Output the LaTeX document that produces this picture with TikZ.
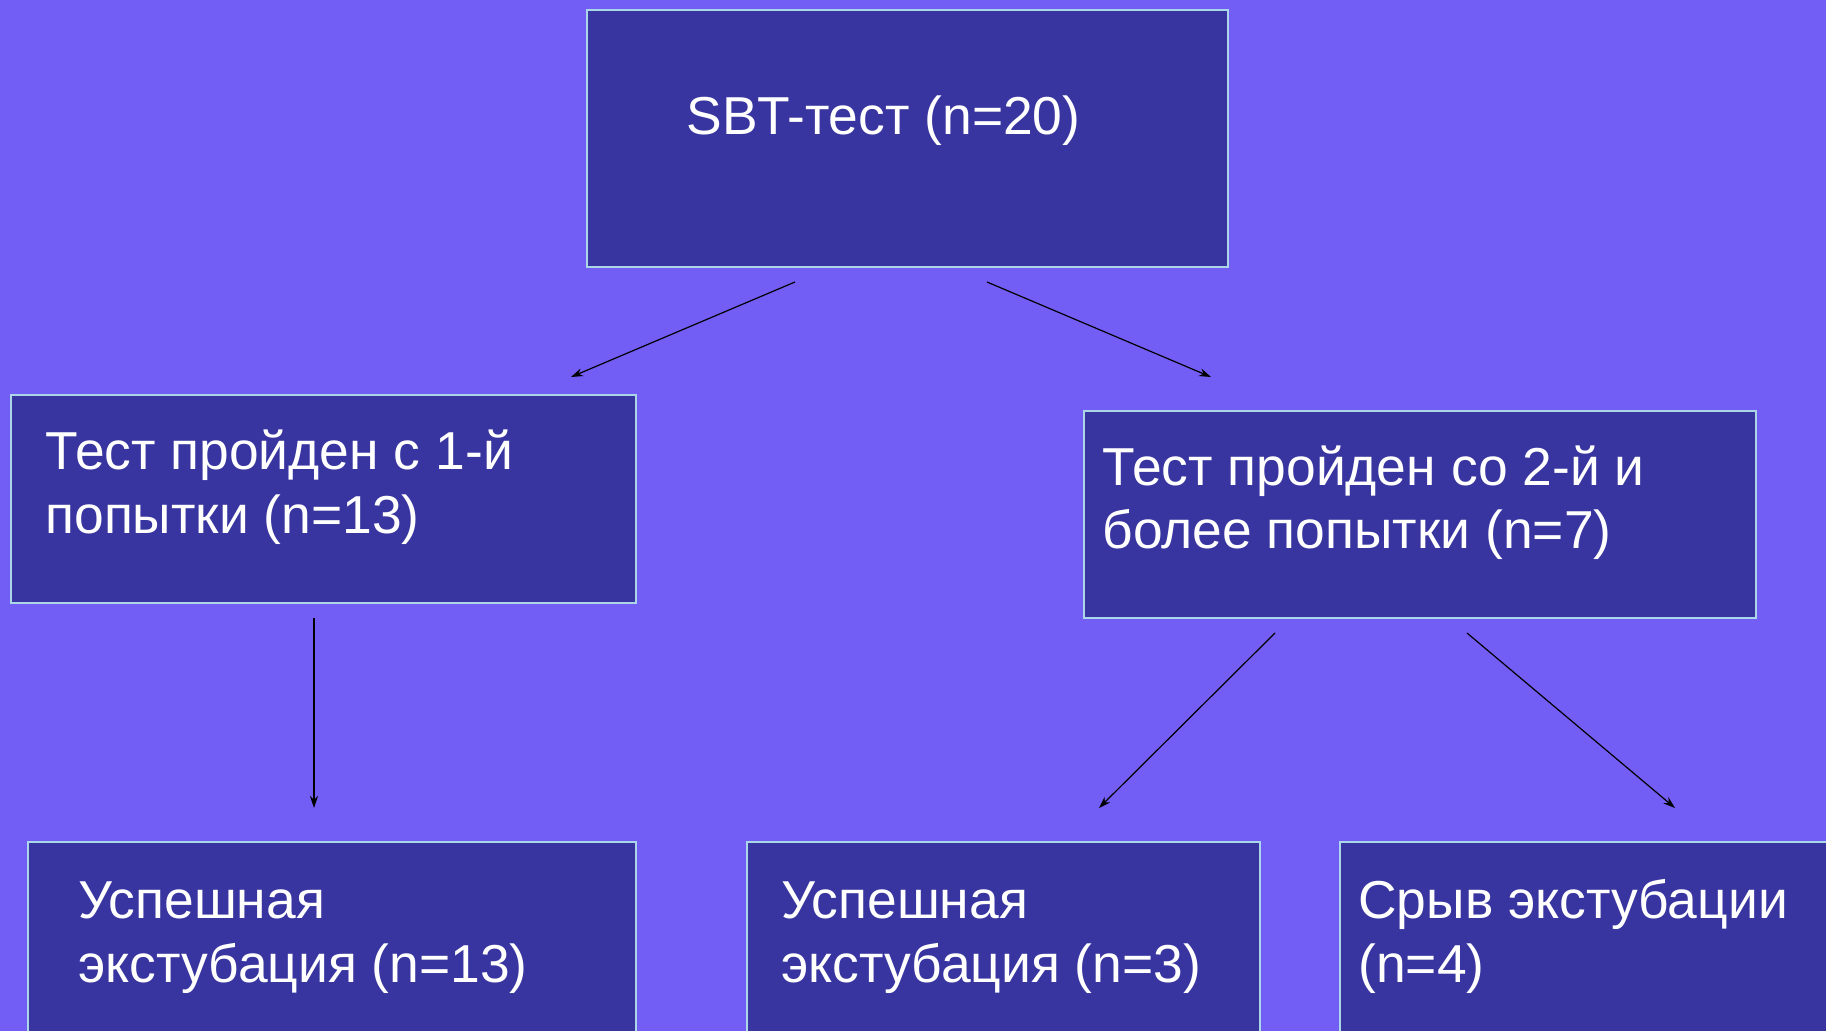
\documentclass[tikz,border=0pt]{standalone}
\usepackage{fontspec}
\setmainfont{Liberation Sans}
\usetikzlibrary{arrows.meta}
\definecolor{bgc}{RGB}{115,94,245}
\definecolor{boxfill}{RGB}{56,53,160}
\definecolor{boxline}{RGB}{170,214,232}
\tikzset{
  box/.style={draw=boxline, line width=1.2pt, fill=boxfill, rectangle, anchor=north west, inner sep=0pt},
  lbl/.style={text=white, anchor=base west, inner sep=0pt, font=\fontsize{26.7}{31}\selectfont},
  conn/.style={line width=0.6pt, -{Stealth[length=6pt,width=4pt]}}
}
\begin{document}
\begin{tikzpicture}[x=0.5pt,y=-0.5pt]
\clip (0,0) rectangle (1826,1031);
\fill[bgc] (0,0) rectangle (1826,1031);
\useasboundingbox (0,0) rectangle (1826,1031);
% boxes
\node[box, minimum width=320.5pt, minimum height=128.5pt] (top) at (586,9) {};
\node[box, minimum width=312.5pt, minimum height=104pt] (midL) at (10,394) {};
\node[box, minimum width=336pt, minimum height=103.5pt] (midR) at (1083,410) {};
\node[box, minimum width=304pt, minimum height=200pt] (botA) at (27,841) {};
\node[box, minimum width=256.5pt, minimum height=200pt] (botB) at (746,841) {};
\node[box, minimum width=300pt, minimum height=200pt] (botC) at (1339,841) {};
% texts
\node[lbl] (ttop) at (686,135) {SBT-тест (n=20)};
\node[lbl] (tL1) at (45,470) {Тест пройден с 1-й};
\node[lbl] (tL2) at (45,534) {попытки (n=13)};
\node[lbl] (tR1) at (1102,486) {Тест пройден со 2-й и};
\node[lbl] (tR2) at (1102,549) {более попытки (n=7)};
\node[lbl] (tA1) at (78,918) {Успешная};
\node[lbl] (tA2) at (78,982) {экстубация (n=13)};
\node[lbl] (tB1) at (781,918) {Успешная};
\node[lbl] (tB2) at (781,982) {экстубация (n=3)};
\node[lbl] (tC1) at (1358,918) {Срыв экстубации};
\node[lbl] (tC2) at (1358,982) {(n=4)};
% connector ends
\coordinate (a1s) at (795,282);
\coordinate (a1e) at (571,377);
\coordinate (a2s) at (987,282);
\coordinate (a2e) at (1211,377);
\coordinate (a3s) at (314,618);
\coordinate (a3e) at (314,808);
\coordinate (a4s) at (1275,633);
\coordinate (a4e) at (1099,808);
\coordinate (a5s) at (1467,633);
\coordinate (a5e) at (1675,808);
\draw[conn] (a1s) -- (a1e);
\draw[conn] (a2s) -- (a2e);
\draw[conn] (a3s) -- (a3e);
\draw[conn] (a4s) -- (a4e);
\draw[conn] (a5s) -- (a5e);
\end{tikzpicture}
\end{document}
